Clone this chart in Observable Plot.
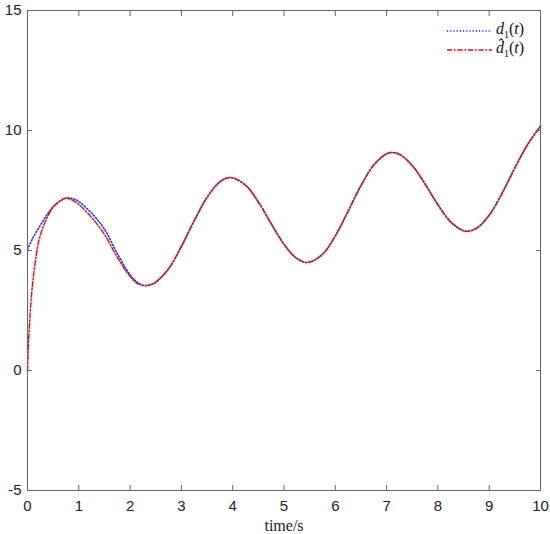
<!DOCTYPE html>
<html>
<head>
<meta charset="utf-8">
<script src="https://cdn.jsdelivr.net/npm/d3@7"></script>
<script src="https://cdn.jsdelivr.net/npm/@observablehq/plot@0.6"></script>
<style>
  html, body { margin: 0; padding: 0; background: #fff; }
  #wrap { position: relative; width: 550px; height: 534px; }
  svg { font-family: "Liberation Sans", Arial, sans-serif; }
  g[aria-label="x-axis label"] text { font-family: "Liberation Serif", "Times New Roman", serif; font-size: 16px; }
  #legend { position: absolute; left: 446px; top: 21px; font-family: "Liberation Serif", "Times New Roman", serif; font-size: 16px; color: #111; }
  #legend .row { display: flex; align-items: center; height: 19px; }
  #legend svg { margin-right: 2px; }
  #legend sub { font-size: 10px; }
</style>
</head>
<body>
<div id="wrap"></div>
<script>
// time (s) and values of d1(t) (blue dotted)
const tD = [0, 0.1, 0.25, 0.4, 0.5, 0.65, 0.77, 0.9, 1.0, 1.25, 1.5, 1.75, 2.0, 2.15, 2.27, 2.4, 2.5, 2.75, 3.0, 3.25, 3.5, 3.75, 3.96, 4.25, 4.5, 4.75, 5.0, 5.25, 5.46, 5.75, 6.0, 6.25, 6.5, 6.75, 7.0, 7.11, 7.25, 7.5, 7.75, 8.0, 8.25, 8.5, 8.58, 8.75, 9.0, 9.25, 9.5, 9.75, 10.0];
const dVals = [5.04, 5.5, 6.05, 6.55, 6.82, 7.08, 7.19, 7.15, 7.04, 6.56, 5.89, 4.88, 3.98, 3.66, 3.54, 3.58, 3.68, 4.24, 5.17, 6.24, 7.21, 7.86, 8.04, 7.72, 7.02, 6.12, 5.26, 4.67, 4.50, 4.84, 5.61, 6.64, 7.70, 8.56, 9.03, 9.08, 9.01, 8.54, 7.77, 6.91, 6.19, 5.82, 5.80, 5.92, 6.47, 7.38, 8.44, 9.42, 10.18];
// time (s) and values of the estimate d̂1(t) (red dash-dot)
const tE = [0, 0.02, 0.05, 0.08, 0.12, 0.17, 0.22, 0.3, 0.4, 0.5, 0.6, 0.73, 0.85, 1.0, 1.25, 1.5, 1.75, 2.0, 2.15, 2.28, 2.4, 2.5, 2.75, 3.0, 3.25, 3.5, 3.75, 3.96, 4.25, 4.5, 4.75, 5.0, 5.25, 5.46, 5.75, 6.0, 6.25, 6.5, 6.75, 7.0, 7.11, 7.25, 7.5, 7.75, 8.0, 8.25, 8.5, 8.58, 8.75, 9.0, 9.25, 9.5, 9.75, 10.0];
const eVals = [0.0, 1.2, 2.3, 3.2, 4.0, 4.8, 5.4, 5.95, 6.45, 6.8, 7.02, 7.17, 7.12, 6.92, 6.38, 5.67, 4.72, 3.92, 3.62, 3.54, 3.57, 3.68, 4.24, 5.17, 6.24, 7.21, 7.86, 8.04, 7.72, 7.02, 6.12, 5.26, 4.67, 4.50, 4.84, 5.61, 6.64, 7.70, 8.56, 9.03, 9.08, 9.01, 8.54, 7.77, 6.91, 6.19, 5.82, 5.80, 5.92, 6.47, 7.38, 8.44, 9.42, 10.18];
const xTicks = [0, 1, 2, 3, 4, 5, 6, 7, 8, 9, 10];
const yTicks = [-5, 0, 5, 10, 15];

const dData = tD.map((t, i) => ({t, v: dVals[i]}));
const eData = tE.map((t, i) => ({t, v: eVals[i]}));

const axisColor = "#666";
const blue = "#2020f0";
const red = "#8e3b14";
const chart = Plot.plot({
  width: 550,
  height: 534,
  marginTop: 10,
  marginBottom: 44,
  marginLeft: 27,
  marginRight: 10,
  style: {fontSize: "15px", color: "#222", background: "#fff"},
  x: {domain: [0, 10]},
  y: {domain: [-5, 15]},
  marks: [
    Plot.line(eData, {x: "t", y: "v", stroke: "#fce8f6", strokeWidth: 5, curve: "catmull-rom"}),
    Plot.line(dData, {x: "t", y: "v", stroke: blue, strokeWidth: 1.5, strokeDasharray: "1.2,2", curve: "catmull-rom"}),
    Plot.line(eData, {x: "t", y: "v", stroke: red, strokeWidth: 1.4, strokeDasharray: "5,2,1.5,2", curve: "catmull-rom"}),
    Plot.frame({stroke: axisColor, strokeWidth: 1}),
    Plot.axisX({ticks: xTicks, anchor: "bottom", tickSize: 0, tickPadding: 10, tickFormat: d => String(d), label: "time/s", labelAnchor: "center", labelArrow: "none", labelOffset: 40}),
    Plot.axisX({ticks: xTicks, anchor: "bottom", tickSize: -5, text: null, label: null, stroke: axisColor}),
    Plot.axisX({ticks: xTicks, anchor: "top", tickSize: -5, text: null, label: null, stroke: axisColor}),
    Plot.axisY({ticks: yTicks, anchor: "left", tickSize: 0, tickPadding: 6, tickFormat: d => String(d), label: null}),
    Plot.axisY({ticks: yTicks, anchor: "left", tickSize: -5, text: null, label: null, stroke: axisColor}),
    Plot.axisY({ticks: yTicks, anchor: "right", tickSize: -5, text: null, label: null, stroke: axisColor})
  ]
});
const wrap = document.getElementById("wrap");
wrap.appendChild(chart);

const legend = document.createElement("div");
legend.id = "legend";
legend.innerHTML = `
  <div class="row"><svg width="48" height="10"><line x1="1" y1="5" x2="46" y2="5" stroke="${blue}" stroke-width="1.6" stroke-dasharray="1.2,2"/></svg><span><i>d</i><sub>1</sub>(<i>t</i>)</span></div>
  <div class="row"><svg width="48" height="10"><line x1="1" y1="6" x2="46" y2="6" stroke="#fce8f6" stroke-width="5"/><line x1="1" y1="5" x2="46" y2="5" stroke="${red}" stroke-width="1.5" stroke-dasharray="5,2,1.5,2"/></svg><span><i>d&#770;</i><sub>1</sub>(<i>t</i>)</span></div>`;
wrap.appendChild(legend);
</script>
</body>
</html>
